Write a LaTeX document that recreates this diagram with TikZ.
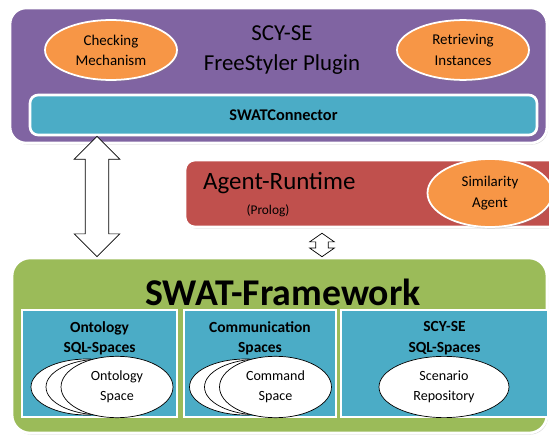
\documentclass[tikz,border=0pt]{standalone}
\usepackage{fontspec}
\setmainfont{Carlito}
\usetikzlibrary{positioning,calc,shapes.geometric,shapes.arrows,shadows}
\definecolor{plugpurple}{HTML}{8064A2}
\definecolor{runred}{HTML}{C0504D}
\definecolor{framegreen}{HTML}{9BBB59}
\definecolor{spacecyan}{HTML}{4BACC6}
\definecolor{bubble}{HTML}{F79646}
\tikzstyle{layer} = [rectangle, draw=white, line width=1.5pt,
drop shadow={opacity=0.3, shadow xshift=0.6pt, shadow yshift=-0.9pt}]
\tikzstyle{task} = [ellipse, draw=white, line width=1pt, fill=bubble, align=center,
minimum width=2.64cm, minimum height=1.08cm, font=\fontsize{8.5}{11.5}\selectfont,
drop shadow={opacity=0.3, shadow xshift=0.6pt, shadow yshift=-0.9pt}]
\tikzstyle{space} = [rectangle, draw=white, line width=1.2pt, fill=spacecyan,
minimum height=2.14cm]
\tikzstyle{spacelabel} = [align=center, font=\bfseries\fontsize{8.8}{11.8}\selectfont]
\tikzstyle{store} = [ellipse, draw, thin, fill=white, align=center,
minimum width=2.24cm, minimum height=1.12cm, font=\fontsize{8}{11.2}\selectfont]
\tikzstyle{link} = [double arrow, draw, thin, fill=white, rotate=90, inner xsep=0pt]

\begin{document}
\begin{tikzpicture}[x=0.02cm, y=-0.02cm]
			\clip (0,0) rectangle (549,436);
			% Place nodes
			\node [layer, fill=plugpurple, rounded corners=0.32cm, minimum width=10.74cm,
				minimum height=2.7cm] (plugin) at (278.5,75.5) {};
			\node [align=center, font=\fontsize{13}{17}\selectfont] (plugtitle) at (282,50)
			{SCY-SE\\FreeStyler Plugin};
			\node [task] (checking) at (111,50) {Checking\\Mechanism};
			\node [task] (retrieving) at (463,50) {Retrieving\\Instances};
			\node [layer, fill=spacecyan, rounded corners=0.16cm, minimum width=10.14cm,
				minimum height=0.8cm, font=\bfseries\fontsize{9.3}{11}\selectfont]
			(connector) at (283.5,115) {SWATConnector};
			\node [layer, fill=runred, rounded corners=0.2cm, minimum width=7.5cm,
				minimum height=1.34cm] (agent) at (372.5,193.5) {};
			\node [anchor=west, font=\fontsize{14.2}{17}\selectfont] (agenttitle) at (197,183)
			{Agent-Runtime};
			\node [font=\fontsize{7.6}{9}\selectfont] (prolog) at (268,211) {(Prolog)};
			\node [task, minimum width=2.5cm, minimum height=1.36cm] (similarity) at (490,193)
			{Similarity\\Agent};
			\node [layer, fill=framegreen, rounded corners=0.36cm, minimum width=10.7cm,
				minimum height=3.5cm] (framework) at (279.5,345.5) {};
			\node [font=\bfseries\fontsize{21.5}{24}\selectfont] (frametitle) at (283,292)
			{SWAT-Framework};
			% Spaces
			\node [space, minimum width=3.1cm] (ontobox) at (99.5,363.5) {};
			\node [space, minimum width=3.04cm] (commbox) at (260,363.5) {};
			\node [space, minimum width=4.14cm] (scybox) at (444.5,363.5) {};
			\node [spacelabel, below=0.12cm of ontobox.north] (ontolabel)
			{Ontology\\SQL-Spaces};
			\node [spacelabel, below=0.12cm of commbox.north] (commlabel)
			{Communication\\Spaces};
			\node [spacelabel, below=0.12cm of scybox.north] (scylabel)
			{SCY-SE\\SQL-Spaces};
			\node [store] (onto-3) at (87,387) {};
			\node [store] (onto-2) at (102,387) {};
			\node [store] (onto-1) at (117,387) {Ontology\\Space};
			\node [store] (comm-3) at (245.5,387) {};
			\node [store] (comm-2) at (260.5,387) {};
			\node [store] (comm-1) at (275.5,387) {Command\\Space};
			\node [store, minimum width=2.6cm] (scenario) at (444,387) {Scenario\\Repository};
			% Links
			\coordinate (bigx) at (97,0);
			\coordinate (smallx) at (322,0);
			\path let \p1 = (connector.south), \p2 = (framework.north), \p3 = (bigx) in
			node [link, minimum height=\y1-\y2, inner ysep=0.23cm,
				double arrow head extend=0.22cm] (uplink) at (\x3,{0.5*(\y1+\y2)}) {};
			\path let \p1 = (agent.south), \p2 = (framework.north), \p3 = (smallx) in
			node [link, minimum height=\y1-\y2-2.8pt, inner ysep=0.12cm,
				double arrow head extend=0.12cm, double arrow tip angle=110]
			(runlink) at (\x3,{0.5*(\y1+\y2)-1.4pt}) {};
		\end{tikzpicture}
\end{document}
